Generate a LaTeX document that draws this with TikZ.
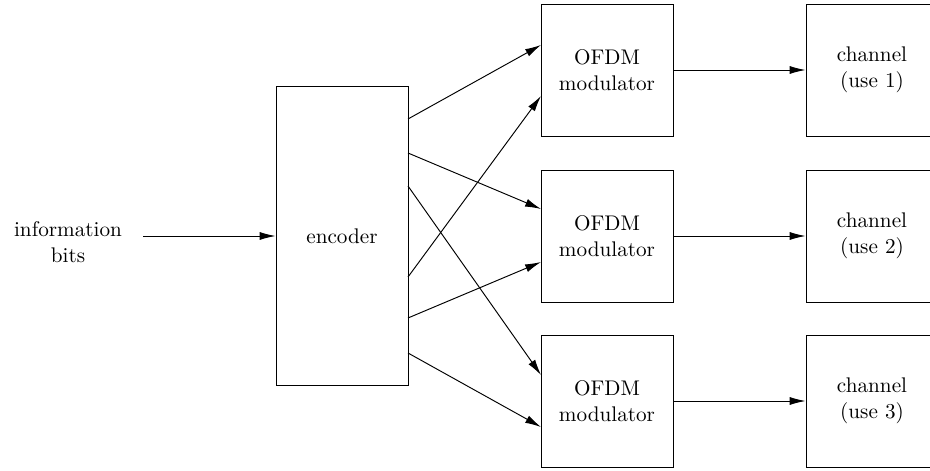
\documentclass[tikz,border=0pt]{standalone}
\usetikzlibrary{arrows.meta}
\begin{document}
\begin{tikzpicture}[x=0.472pt,y=-0.472pt,
  blk/.style={draw,line width=0.45pt,minimum width=62.3pt,minimum height=62.3pt,inner sep=0pt,align=center,font=\normalsize},
  encblk/.style={blk,minimum height=140.7pt},
  lbl/.style={align=center,inner sep=0pt},
  conn/.style={line width=0.45pt,-{Latex[length=7.5pt,width=3.8pt]}}]
\useasboundingbox (0,0) rectangle (930,471);
\node[lbl] (info) at (68,242) {information\\bits};
\coordinate (in) at (143,236);
\node[encblk] (enc) at (342,236) {encoder};
\node[blk] (o1) at (607,70) {OFDM\\modulator};
\node[blk] (o2) at (607,236) {OFDM\\modulator};
\node[blk] (o3) at (607,401) {OFDM\\modulator};
\node[blk] (c1) at (872,70) {channel\\(use 1)};
\node[blk] (c2) at (872,236) {channel\\(use 2)};
\node[blk] (c3) at (872,401) {channel\\(use 3)};
\coordinate (e1) at (408,119);
\coordinate (e2) at (408,153);
\coordinate (e3) at (408,186);
\coordinate (e4) at (408,277);
\coordinate (e5) at (408,318);
\coordinate (e6) at (408,353);
\coordinate (o1a) at (541,45);
\coordinate (o1b) at (541,96);
\coordinate (o2a) at (541,209);
\coordinate (o2b) at (541,262);
\coordinate (o3a) at (541,375);
\coordinate (o3b) at (541,427);
\draw[conn] (in) -- (enc.west);
\draw[conn] (e1) -- (o1a);
\draw[conn] (e2) -- (o2a);
\draw[conn] (e3) -- (o3a);
\draw[conn] (e4) -- (o1b);
\draw[conn] (e5) -- (o2b);
\draw[conn] (e6) -- (o3b);
\draw[conn] (o1.east) -- (c1.west);
\draw[conn] (o2.east) -- (c2.west);
\draw[conn] (o3.east) -- (c3.west);
\end{tikzpicture}
\end{document}
